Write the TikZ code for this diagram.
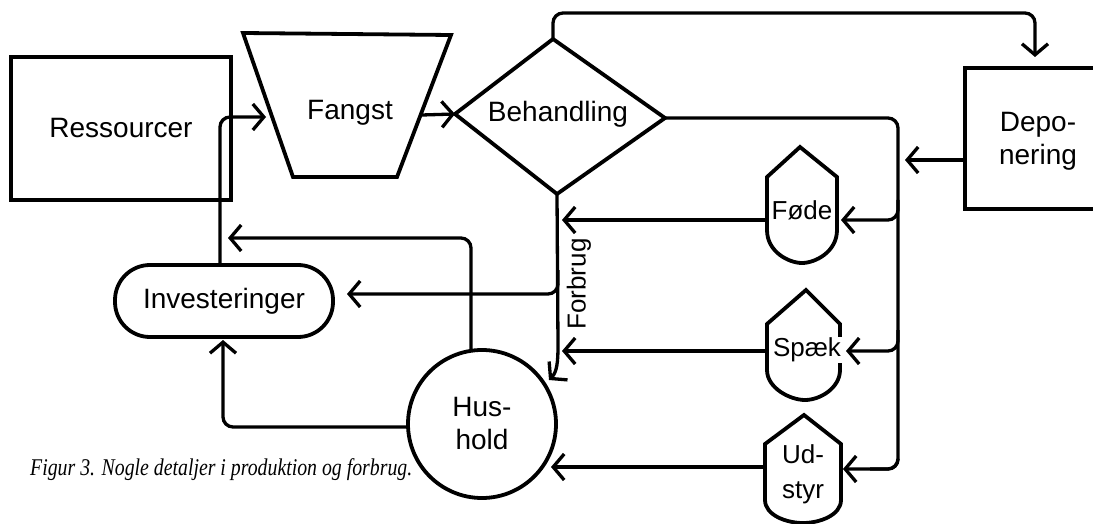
\documentclass[tikz,border=0pt]{standalone}
\usepackage{fontspec}
\setmainfont{Liberation Sans}
\newfontfamily\capfont{Liberation Serif}
\usepackage{graphicx}
\usetikzlibrary{arrows.meta}
\begin{document}
\begin{tikzpicture}[x=1pt,y=-1pt,
  conn/.style={line width=3.3pt, rounded corners=10pt},
  arr/.style={conn, -{Straight Barb[length=11pt,width=26pt]}},
  outl/.style={line width=3.8pt},
  lbl/.style={font=\fontsize{28}{33}\selectfont, align=center, inner sep=0pt},
  slbl/.style={font=\fontsize{26}{35}\selectfont, align=center, inner sep=0pt}
]
\useasboundingbox (0,0) rectangle (1093,524);
\clip (0,0) rectangle (1093,524);

% Ressourcer
\node[draw, line width=3.3pt, minimum width=220pt, minimum height=143pt, lbl] (res) at (121,128.5) {Ressourcer};

% Fangst trapezoid
\coordinate (fTL) at (243,33);
\coordinate (fTR) at (451,35);
\coordinate (fBR) at (397,177);
\coordinate (fBL) at (293,177);
\draw[outl] (fTL) -- (fTR) -- (fBR) -- (fBL) -- cycle;
\node[lbl] (fang) at (350,113) {Fangst};
\coordinate (fangL) at (266,117);
\coordinate (fangR) at (422,115);

% Behandling diamond
\coordinate (bW) at (455,114);
\coordinate (bN) at (553,39);
\coordinate (bE) at (665,118);
\coordinate (bS) at (557,194);
\draw[outl] (bW) -- (bN) -- (bE) -- (bS) -- cycle;
\node[lbl] (beh) at (558,114) {Behandling};

% Deponering box (cut by the right edge)
\coordinate (dTR) at (1100,68);
\coordinate (dTL) at (965,68);
\coordinate (dBL) at (965,209);
\coordinate (dBR) at (1100,209);
\draw[outl] (dTR) -- (dTL) -- (dBL) -- (dBR);
\node[lbl] (dep) at (1038,141) {Depo-\\nering};
\coordinate (depW) at (965,160);
\coordinate (depN) at (1035,57);

% Investeringer
\node[draw, outl, rounded corners=35pt, minimum width=218pt, minimum height=72pt, lbl] (inv) at (224,301) {Investeringer};
\coordinate (invN) at (220,265);
\coordinate (invE) at (347,294);
\coordinate (invS) at (223,340);

% Hushold
\node[draw, outl, circle, minimum size=148pt, lbl] (hus) at (482,424) {Hus-\\hold};
\coordinate (husN) at (471,351);
\coordinate (husW) at (408,427);
\coordinate (husE) at (551,467);
\coordinate (husNE) at (549,380);

% Foede
\draw[outl] (767,230) -- (767,177) -- (800,147) -- (837,177) -- (837,230)
  .. controls (837,252) and (815,263) .. (802,263)
  .. controls (789,263) and (767,252) .. (767,230) -- cycle;
\node[slbl] (fod) at (802,210) {Føde};
\coordinate (fodW) at (766,220);
\coordinate (fodE) at (841,220);

% Spaek
\draw[outl] (767,370) -- (767,324) -- (806,290) -- (840,324) -- (840,370)
  .. controls (840,388) and (820,400) .. (805,400)
  .. controls (790,400) and (767,388) .. (767,370) -- cycle;
\node[slbl, fill=white, inner sep=1pt] (spk) at (807,350) {Spæk};
\coordinate (spkW) at (767,351);
\coordinate (spkE) at (846,351);

% Udstyr
\draw[outl] (765,500) -- (765,444) -- (804,415) -- (841,444) -- (841,500)
  .. controls (841,515) and (820,523) .. (803,523)
  .. controls (786,523) and (765,515) .. (765,500) -- cycle;
\node[slbl] (uds) at (803,474) {Ud-\\styr};
\coordinate (udsW) at (765,467);
\coordinate (udsE) at (843,469);

% Forbrug line
\coordinate (fb1) at (562,220);
\coordinate (fb2) at (562,351);
\node[slbl, rotate=90] (forbrug) at (579,284) {Forbrug};

% Connectors
\draw[arr] (invN) -- (220,117) -- (fangL);
\draw[arr] (fangR) -- (bW);
\draw[arr] (bN) -- (553,13) -- (1035,13) -- (depN);
\draw[conn] (bE) -- (898,118) -- (898,469) -- (870,469);
\draw[arr] (898,460) -- (898,469) -- (udsE);
\draw[arr] (898,200) -- (898,220) -- (fodE);
\draw[arr] (898,330) -- (898,351) -- (spkE);
\draw[arr] (depW) -- (905,160);
\draw[arr] (fodW) -- (fb1);
\draw[arr] (spkW) -- (fb2);
\draw[arr] (udsW) -- (husE);
\draw[arr, rounded corners=0pt] (bS) -- (558,345) .. controls (558,362) and (557,372) .. (husNE);
\draw[arr] (558,270) -- (558,294) -- (invE);
\draw[arr] (husN) -- (471,238) -- (228,238);
\draw[arr] (husW) -- (223,427) -- (invS);

% Caption
\node[anchor=west, inner sep=0pt] (cap) at (30,470)
  {\resizebox*{382pt}{22pt}{\capfont\itshape Figur 3. Nogle detaljer i produktion og forbrug.}};
\end{tikzpicture}
\end{document}
